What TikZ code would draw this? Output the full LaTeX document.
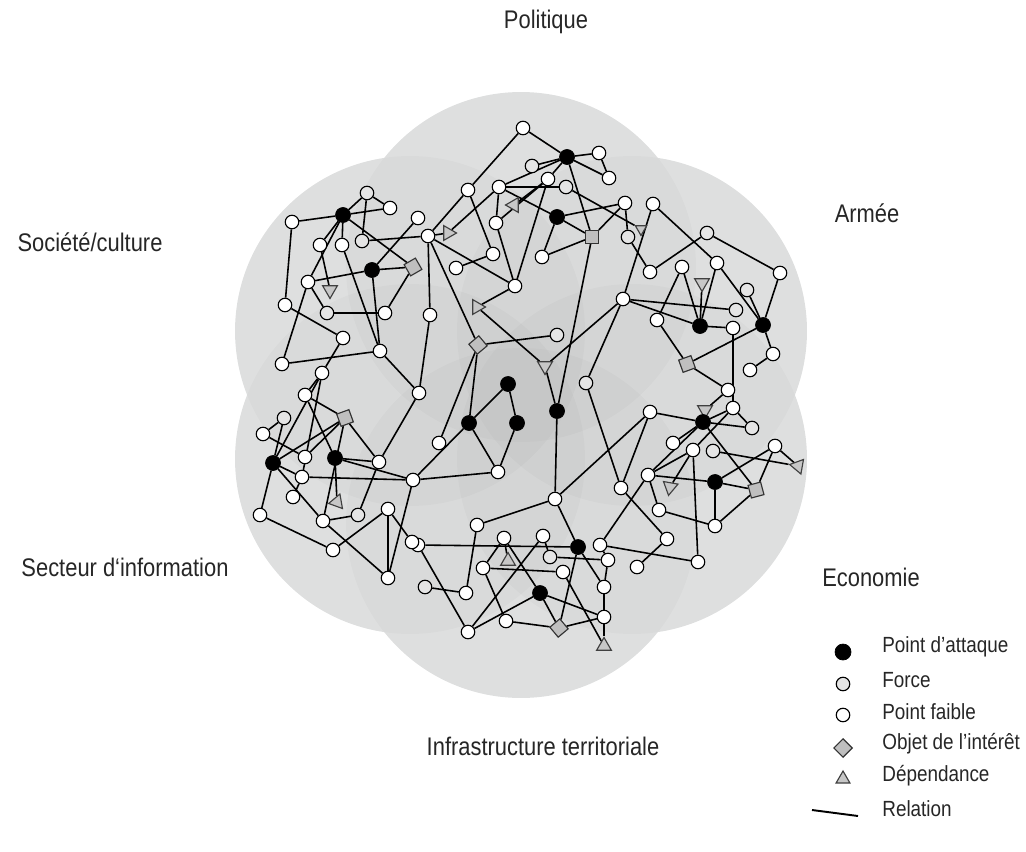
\documentclass[tikz,border=0pt]{standalone}
\usepackage{fontspec}
\setmainfont{Liberation Sans}
\newfontfamily\labfont[FakeStretch=0.86]{Liberation Sans}
\usetikzlibrary{shapes.geometric}
\pgfdeclarelayer{bg}
\pgfdeclarelayer{edges}
\pgfsetlayers{bg,edges,main}
\definecolor{basegray}{RGB}{227,228,228}
\tikzset{
  wk/.style={circle,draw=black,line width=0.65pt,fill=white,minimum size=0.27cm,inner sep=0pt},
  fo/.style={wk,fill=black!10},
  atk/.style={circle,draw=black,fill=black,minimum size=0.3cm,inner sep=0pt},
  dm/.style={rectangle,draw=black!80,line width=0.65pt,fill=black!25,minimum size=0.26cm,inner sep=0pt},
  tr/.style={regular polygon,regular polygon sides=3,draw=black!75,line width=0.65pt,fill=black!22,minimum size=0.34cm,inner sep=0pt},
  rel/.style={draw=black,line width=0.9pt},
  lab/.style={font=\labfont\fontsize{14.5}{16}\selectfont,text=black!85,inner sep=0pt},
  leg/.style={font=\labfont\fontsize{12.5}{14}\selectfont,text=black!85,anchor=west,inner sep=0pt},
  petal/.style={fill=black,fill opacity=0.02}
}
\begin{document}
\begin{tikzpicture}[x=0.02cm,y=-0.02cm]
\useasboundingbox (0,0) rectangle (1026,851);
% ---------- background petals ----------
\begin{pgfonlayer}{bg}
  \foreach \cx/\cy in {521/267, 632/331, 632/459, 521/523, 410/459, 410/331}
    \fill[basegray] (\cx,\cy) circle[radius=3.5cm];
  \foreach \cx/\cy in {521/267, 632/331, 632/459, 521/523, 410/459, 410/331}
    \fill[petal] (\cx,\cy) circle[radius=3.5cm];
\end{pgfonlayer}
% ---------- labels ----------
\node[lab] (lpol) at (546,22) {Politique};
\node[lab] (larm) at (867,213) {Armée};
\node[lab] (lsoc) at (90,242) {Société/culture};
\node[lab] (lsec) at (125,567) {Secteur d‘information};
\node[lab] (leco) at (871,577) {Economie};
\node[lab] (linf) at (543,746) {Infrastructure territoriale};
% ---------- Société ----------
\node[wk] (s1) at (292,222) {};
\node[atk] (s2) at (343,215) {};
\node[fo] (s3) at (367,193) {};
\node[wk] (s4) at (390,208) {};
\node[wk] (s5) at (320,245) {};
\node[wk] (s6) at (342,245) {};
\node[fo] (s7) at (362,241) {};
\node[wk] (s8) at (308,282) {};
\node[tr,rotate=180] (s9) at (330,290) {};
\node[atk] (s10) at (372,270) {};
\node[dm,rotate=30] (s11) at (413,267) {};
\node[wk] (s12) at (285,305) {};
\node[fo] (s13) at (327,313) {};
\node[wk] (s14) at (385,313) {};
\node[wk] (s15) at (343,338) {};
\node[wk] (s16) at (380,351) {};
\node[wk] (s17) at (282,364) {};
\node[wk] (s18) at (322,373) {};
\node[wk] (s19) at (418,218) {};
\node[wk] (s20) at (428,236) {};
\node[tr,rotate=150] (s21) at (448,233) {};
\node[wk] (s22) at (430,315) {};
\node[wk] (s23) at (419,393) {};
% ---------- Politique ----------
\node[wk] (p1) at (523,128) {};
\node[atk] (p2) at (567,157) {};
\node[wk] (p3) at (599,153) {};
\node[wk] (p4) at (609,178) {};
\node[fo] (p5) at (532,166) {};
\node[wk] (p6) at (548,179) {};
\node[fo] (p7) at (566,187) {};
\node[wk] (p8) at (499,187) {};
\node[wk] (p9) at (468,190) {};
\node[tr,rotate=90] (p10) at (514,205) {};
\node[wk] (p11) at (496,223) {};
\node[atk] (p12) at (557,217) {};
\node[dm] (p13) at (592,237) {};
\node[wk] (p14) at (625,203) {};
\node[wk] (p15) at (653,204) {};
\node[fo] (p16) at (628,237) {};
\node[tr,rotate=180,minimum size=0.26cm] (p17) at (641,229) {};
\node[wk] (p18) at (542,257) {};
\node[wk] (p19) at (493,254) {};
\node[wk] (p20) at (456,268) {};
\node[wk] (p21) at (515,286) {};
\node[tr,rotate=150] (p22) at (477,307) {};
% ---------- Armée ----------
\node[wk] (r1) at (650,272) {};
\node[fo] (r2) at (707,233) {};
\node[wk] (r3) at (682,267) {};
\node[wk] (r4) at (717,263) {};
\node[wk] (r5) at (780,273) {};
\node[tr,rotate=180] (r6) at (702,283) {};
\node[fo] (r7) at (747,290) {};
\node[wk] (r8) at (623,299) {};
\node[fo] (r9) at (736,310) {};
\node[wk] (r10) at (657,320) {};
\node[atk] (r11) at (700,326) {};
\node[wk] (r12) at (733,328) {};
\node[atk] (r13) at (763,325) {};
\node[wk] (r14) at (773,354) {};
\node[wk] (r15) at (750,370) {};
\node[dm,rotate=20] (r16) at (687,364) {};
\node[wk] (r17) at (728,390) {};
% ---------- Centre ----------
\node[dm,rotate=40] (c1) at (478,345) {};
\node[fo] (c2) at (557,335) {};
\node[tr,rotate=180] (c3) at (545,366) {};
\node[atk] (c4) at (508,384) {};
\node[atk] (c5) at (469,423) {};
\node[atk] (c6) at (517,423) {};
\node[atk] (c7) at (557,411) {};
\node[fo] (c8) at (586,383) {};
\node[wk] (c9) at (498,472) {};
\node[wk] (c10) at (555,499) {};
\node[wk] (c11) at (621,488) {};
\node[wk] (c12) at (439,443) {};
% ---------- Economie ----------
\node[wk] (e1) at (650,412) {};
\node[tr,rotate=180] (e2) at (705,410) {};
\node[atk] (e3) at (703,422) {};
\node[wk] (e4) at (733,408) {};
\node[fo] (e5) at (752,428) {};
\node[wk] (e6) at (673,443) {};
\node[wk] (e7) at (693,450) {};
\node[fo] (e8) at (713,451) {};
\node[wk] (e9) at (775,446) {};
\node[tr,rotate=200] (e10) at (798,466) {};
\node[wk] (e11) at (648,475) {};
\node[tr,rotate=170] (e12) at (670,487) {};
\node[atk] (e13) at (715,482) {};
\node[dm,rotate=15] (e14) at (756,490) {};
\node[wk] (e15) at (659,510) {};
\node[wk] (e16) at (715,526) {};
\node[wk] (e17) at (667,539) {};
\node[wk] (e18) at (698,562) {};
\node[wk] (e19) at (637,567) {};
\node[wk] (e20) at (608,560) {};
\node[wk] (e21) at (600,545) {};
\node[wk] (e22) at (604,587) {};
\node[wk] (e23) at (604,617) {};
\node[tr] (e24) at (604,646) {};
% ---------- Infrastructure ----------
\node[atk] (i1) at (578,547) {};
\node[wk] (i2) at (543,536) {};
\node[wk] (i3) at (504,538) {};
\node[wk] (i4) at (477,525) {};
\node[tr] (i5) at (508,561) {};
\node[fo] (i6) at (550,557) {};
\node[wk] (i7) at (483,568) {};
\node[wk] (i8) at (563,572) {};
\node[atk] (i9) at (540,593) {};
\node[wk] (i10) at (466,593) {};
\node[fo] (i11) at (425,587) {};
\node[wk] (i12) at (468,632) {};
\node[wk] (i13) at (506,621) {};
\node[dm,rotate=40] (i14) at (559,628) {};
\node[wk] (i15) at (418,545) {};
\node[wk] (i16) at (412,542) {};
\node[wk] (i17) at (388,578) {};
% ---------- Secteur ----------
\node[wk] (l1) at (263,434) {};
\node[atk] (l2) at (273,463) {};
\node[wk] (l3) at (305,457) {};
\node[atk] (l4) at (335,458) {};
\node[dm,rotate=20] (l5) at (345,418) {};
\node[fo] (l6) at (284,418) {};
\node[wk] (l7) at (305,395) {};
\node[wk] (l8) at (379,462) {};
\node[wk] (l9) at (302,477) {};
\node[wk] (l10) at (413,480) {};
\node[wk] (l11) at (293,497) {};
\node[tr,rotate=100] (l12) at (337,502) {};
\node[wk] (l13) at (260,515) {};
\node[wk] (l14) at (323,521) {};
\node[fo] (l15) at (358,515) {};
\node[wk] (l16) at (388,509) {};
\node[wk] (l17) at (333,550) {};
% ---------- relations ----------
\begin{pgfonlayer}{edges}
\foreach \a/\b in {
 s1/s2, s2/s3, s2/s4, s3/s4, s3/s7, s1/s12, s2/s8, s2/s11, s2/s5, s2/s6,
 s7/s20, s20/s21, s8/s10, s10/s11, s10/s19, s10/s16, s11/s14, s13/s14,
 s8/s13, s5/s9, s6/s16, s12/s15, s15/s18, s17/s16, s17/s8,
 s20/p9, s20/p21, s20/c1, s20/s22, s22/s23, s16/s23, s23/l8, s18/l9, s18/l7,
 p1/p2, p1/p9, p2/p3, p3/p4, p2/p4, p2/p5, p2/p8, p2/p6, p2/p13, p8/p7,
 p8/s21, p8/p11, p8/p12, p9/p19, p12/p13, p12/p14, p13/p14, p12/p18, p18/p13,
 p7/p17, p14/p16, p16/r1, p15/r8, p15/r4, p10/p6, p11/p6, p21/p11, p21/p6,
 p19/p20, p21/p22, p22/c3, c3/c7, c3/r8, p13/c7,
 r1/r2, r2/r5, r5/r13, r3/r10, r3/r11, r4/r13, r4/r11, r8/r9, r8/r11,
 r7/r13, r13/r14, r14/r15, r16/r13, r16/r10, r16/r17, r17/e2, r12/r11,
 r12/e4, r6/r11, r8/c8,
 c1/c2, c1/c12, c1/c5, c4/c5, c4/c6, c6/c9, c5/c9, c5/l10, l10/c9, c7/c10,
 c8/c11, c10/e1, c11/e1,
 e1/e3, e3/e4, e3/e5, e4/e5, e2/e3, e3/e11, e3/e14, e3/e6, e11/e7, e11/e13,
 e13/e14, e11/e15, e15/e16, e13/e16, e13/e9, e8/e10, e9/e10, e9/e14,
 e14/e16, e7/e18, e4/e7, e21/e18, e21/e11, e21/e20, e20/e22, e19/e17,
 e17/c11, e12/e7, e22/e23, e23/e24,
 i15/i1, i1/c10, c10/i4, i4/i10, i10/i11, i1/i14, i1/e22, i3/i7, i3/i9,
 i9/i14, i7/i8, i7/i13, i13/i14, i14/e23, i9/e23, i12/i9, i12/i2, i12/i15,
 i8/e24, i6/e20, i6/i2, i17/l16, i17/l10, l14/i17, l16/i16, i5/i3,
 l1/l3, l6/l1, l6/l2, l2/l9, l2/l13, l2/l14, l2/l5, l2/s18, l7/l5, l7/l4,
 l5/l8, l5/l14, l4/l8, l4/l10, l4/l12, l9/l10, l13/l17, l17/l16, l14/l15,
 l15/l8, l11/l9, l3/l5}
 \draw[rel] (\a) -- (\b);
\end{pgfonlayer}
% ---------- legend ----------
\node[atk,minimum size=0.32cm] (k1) at (843,652) {};
\node[fo] (k2) at (843,684) {};
\node[wk] (k3) at (843,715) {};
\node[dm,rotate=45,minimum size=0.26cm] (k4) at (843,748) {};
\node[tr,minimum size=0.32cm] (k5) at (843,779) {};
\coordinate (k6a) at (812,810);
\coordinate (k6b) at (858,816);
\draw[rel,line width=1.1pt] (k6a) -- (k6b);
\node[leg] (t1) at (882,647) {Point d’attaque};
\node[leg] (t2) at (882,680) {Force};
\node[leg] (t3) at (882,712) {Point faible};
\node[leg] (t4) at (882,744) {Objet de l’intérêt};
\node[leg] (t5) at (882,776) {Dépendance};
\node[leg] (t6) at (882,809) {Relation};
\end{tikzpicture}
\end{document}
